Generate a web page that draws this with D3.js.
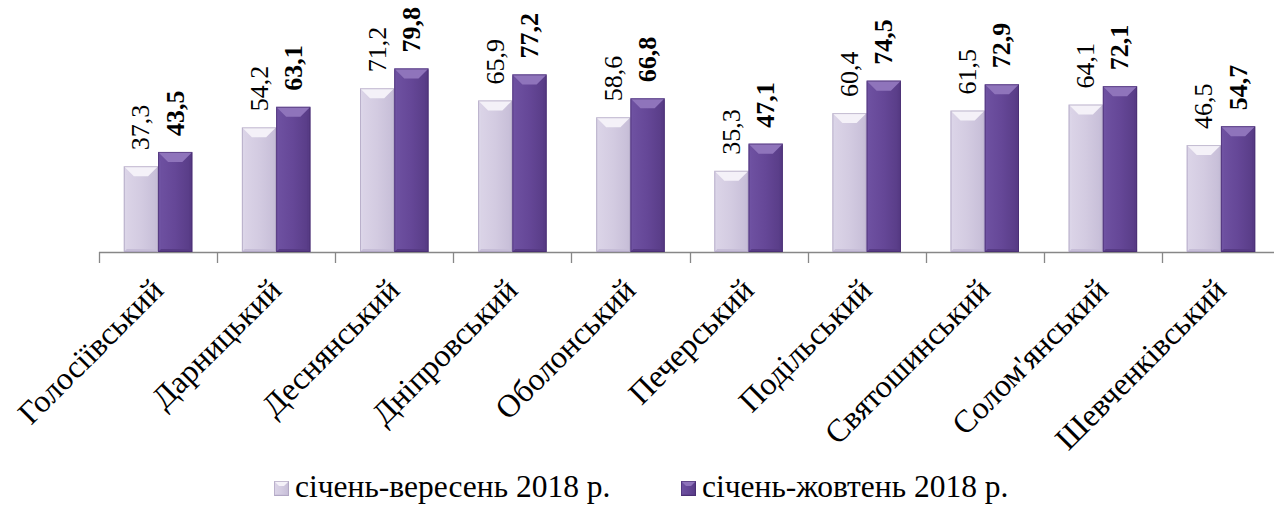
<!DOCTYPE html>
<html>
<head>
<meta charset="utf-8">
<script src="https://cdn.jsdelivr.net/npm/d3@7"></script>
<style>
  html, body { margin: 0; padding: 0; background: #fff; }
  svg { display: block; }
</style>
</head>
<body>
<svg width="1274" height="505"></svg>
<script>
const districts = ["Голосіївський", "Дарницький", "Деснянський", "Дніпровський", "Оболонський",
    "Печерський", "Подільський", "Святошинський", "Солом'янський", "Шевченківський"];
const seriesNames = ["січень-вересень 2018 р.", "січень-жовтень 2018 р."];
const janSep = [37.3, 54.2, 71.2, 65.9, 58.6, 35.3, 60.4, 61.5, 64.1, 46.5];
const janOct = [43.5, 63.1, 79.8, 77.2, 66.8, 47.1, 74.5, 72.9, 72.1, 54.7];

(function() {
    const svg = d3.select("svg");
    const font = "'Liberation Serif', 'Times New Roman', serif";
    const baseY = 252;

    const x = d3.scaleBand().domain(districts).range([99, 1280])
        .paddingInner(0.42).paddingOuter(0.21);
    const xs = d3.scaleBand().domain([0, 1]).range([0, x.bandwidth()]);
    const y = d3.scaleLinear().domain([0, 100]).range([baseY, 22]);
    const fmt = v => d3.format(".1f")(v).replace(".", ",");

    // colours per series: body, top bevel, side, bottom, outline
    const pal = [
        { body: "#d3cbe1", top: "#f4f1f8", side: "#dcd5e8", bottom: "#c6bdd7", edge: "#a397b8" },
        { body: "#654797", top: "#8f74bb", side: "#6f52a2", bottom: "#573b85", edge: "#43296a" }
    ];

    const defs = svg.append("defs");
    pal.forEach((p, i) => {
        const gr = defs.append("linearGradient").attr("id", "g" + i)
            .attr("x1", 0).attr("x2", 1).attr("y1", 0).attr("y2", 0);
        gr.append("stop").attr("offset", 0).attr("stop-color", p.side);
        gr.append("stop").attr("offset", 0.5).attr("stop-color", p.body);
        gr.append("stop").attr("offset", 1).attr("stop-color", p.bottom);
    });

    function bevelBar(g, bx, by, w, h, i, b) {
        const p = pal[i];
        b = Math.min(b, h / 2, w / 2);
        const s = b * 0.3;
        g.append("rect").attr("x", bx).attr("y", by).attr("width", w).attr("height", h)
            .attr("fill", `url(#g${i})`);
        // top face
        g.append("path").attr("d", `M${bx},${by}L${bx + w},${by}L${bx + w - b},${by + b}L${bx + b},${by + b}Z`)
            .attr("fill", p.top);
        // left / right faces
        g.append("path").attr("d", `M${bx},${by}L${bx + s},${by + b}L${bx + s},${by + h - s}L${bx},${by + h}Z`)
            .attr("fill", p.side).attr("opacity", 0.7);
        g.append("path").attr("d", `M${bx + w},${by}L${bx + w - s},${by + b}L${bx + w - s},${by + h - s}L${bx + w},${by + h}Z`)
            .attr("fill", p.bottom).attr("opacity", 0.7);
        // bottom face
        g.append("path").attr("d", `M${bx},${by + h}L${bx + s},${by + h - s}L${bx + w - s},${by + h - s}L${bx + w},${by + h}Z`)
            .attr("fill", p.bottom);
        g.append("rect").attr("x", bx + 0.5).attr("y", by + 0.5).attr("width", w - 1).attr("height", h - 1)
            .attr("fill", "none").attr("stroke", p.edge).attr("stroke-width", 1).attr("opacity", 0.6);
    }

    // axis line and tick marks at category boundaries
    const axis = svg.append("g").attr("stroke", "#878787").attr("stroke-width", 1.3);
    axis.append("line").attr("x1", x.range()[0]).attr("x2", x.range()[1])
        .attr("y1", baseY + 0.5).attr("y2", baseY + 0.5);
    const half = (x.step() - x.bandwidth()) / 2;
    districts.forEach(d => {
        const tx = Math.round(x(d) - half) + 0.5;
        axis.append("line").attr("x1", tx).attr("x2", tx).attr("y1", baseY).attr("y2", baseY + 11);
    });

    const sets = [janSep, janOct];
    const bars = svg.append("g");
    const labels = svg.append("g");
    districts.forEach((d, k) => {
        sets.forEach((vals, i) => {
            const v = vals[k];
            const bx = x(d) + xs(i);
            const by = y(v);
            bevelBar(bars, bx, by, xs.bandwidth(), baseY - by, i, 10);
            const cx = bx + xs.bandwidth() / 2;
            labels.append("text")
                .attr("transform", `translate(${cx + 8.5},${by - 16}) rotate(-90)`)
                .attr("font-family", font)
                .attr("font-size", 26)
                .attr("font-weight", i === 1 ? "bold" : "normal")
                .attr("fill", "#000")
                .text(fmt(v));
        });
    });

    // category labels
    svg.append("g").selectAll("text").data(districts).enter().append("text")
        .attr("transform", d => `translate(${x(d) + x.bandwidth() / 2 + 7},${292}) rotate(-45)`)
        .attr("text-anchor", "end")
        .attr("font-family", font)
        .attr("font-size", 32)
        .attr("fill", "#000")
        .text(d => d);

    // legend
    const legendX = [274, 681];
    const lg = svg.append("g");
    seriesNames.forEach((name, i) => {
        bevelBar(lg, legendX[i], 481, 15, 15, i, 5);
        lg.append("text").attr("x", legendX[i] + 21).attr("y", 497)
            .attr("font-family", font)
            .attr("font-size", 31.5).attr("fill", "#000").text(name);
    });
})();
</script>
</body>
</html>
